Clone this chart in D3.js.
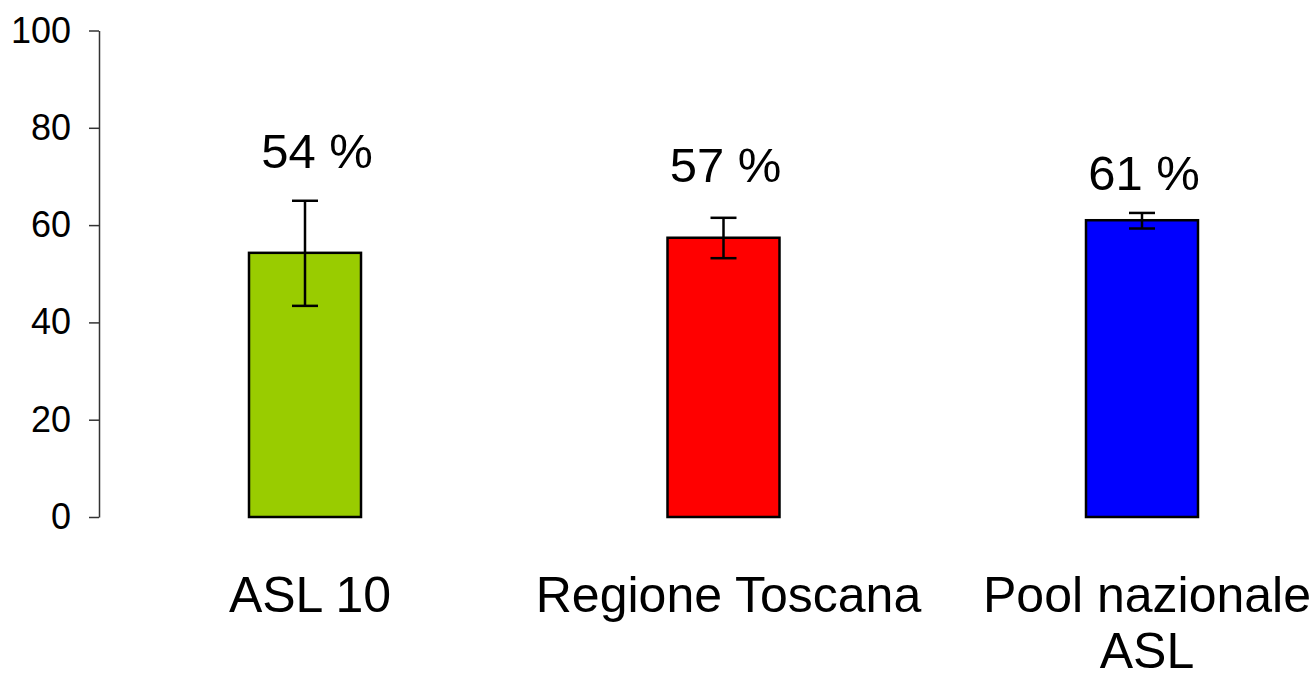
<!DOCTYPE html>
<html><head><meta charset="utf-8">
<script src="https://cdn.jsdelivr.net/npm/d3@7"></script>
<style>body{margin:0;background:#fff}svg{display:block}text{font-family:"Liberation Sans",Arial,sans-serif}</style>
</head><body>
<script>
const categories = [["ASL 10"], ["Regione Toscana"], ["Pool nazionale", "ASL"]];
const values = [54.3, 57.4, 61.0];
const errLow = [43.4, 53.2, 59.3];
const errHigh = [65.0, 61.5, 62.5];
const valueLabels = ["54 %", "57 %", "61 %"];
const labelAt = [71.7, 68.9, 67.2];
const colors = ["#99CC00", "#FF0000", "#0000FF"];
const yTicks = [0, 20, 40, 60, 80, 100];

const W = 1311, H = 678;
const svg = d3.select("body").append("svg").attr("width", W).attr("height", H);
const y = d3.scaleLinear().domain([0, 100]).range([517, 30.5]);
const keys = categories.map((c, i) => i);
const x = d3.scalePoint().domain(keys).range([305, 1142]);
const bw = 112;

const ax = svg.append("g").attr("transform", "translate(99,0)")
  .call(d3.axisLeft(y).tickValues(yTicks).tickSize(10).tickSizeOuter(0).tickPadding(18));
ax.select(".domain").attr("stroke", "#333").attr("stroke-width", 1.5);
ax.selectAll(".tick line").attr("stroke", "#333").attr("stroke-width", 1.5);
ax.selectAll(".tick text").attr("font-size", 36).attr("fill", "#000")
  .attr("font-family", '"Liberation Sans",Arial,sans-serif');

svg.selectAll("rect.bar").data(keys).enter().append("rect")
  .attr("x", i => x(i) - bw / 2).attr("width", bw)
  .attr("y", i => y(values[i])).attr("height", i => y(0) - y(values[i]))
  .attr("fill", i => colors[i]).attr("stroke", "#000").attr("stroke-width", 2.5);

const eb = svg.selectAll("g.err").data(keys).enter().append("g")
  .attr("stroke", "#000").attr("stroke-width", 2.5);
eb.append("line").attr("x1", i => x(i)).attr("x2", i => x(i))
  .attr("y1", i => y(errHigh[i])).attr("y2", i => y(errLow[i]));
eb.append("line").attr("x1", i => x(i) - 13).attr("x2", i => x(i) + 13)
  .attr("y1", i => y(errHigh[i])).attr("y2", i => y(errHigh[i]));
eb.append("line").attr("x1", i => x(i) - 13).attr("x2", i => x(i) + 13)
  .attr("y1", i => y(errLow[i])).attr("y2", i => y(errLow[i]));

svg.selectAll("text.vl").data(keys).enter().append("text")
  .attr("x", i => x(i) + (i === 0 ? 12 : 2)).attr("y", i => y(labelAt[i]))
  .attr("text-anchor", "middle").attr("font-size", 49).attr("fill", "#000")
  .text(i => valueLabels[i]);

const cl = svg.selectAll("text.cl").data(keys).enter().append("text")
  .attr("text-anchor", "middle").attr("font-size", 50).attr("fill", "#000")
  .attr("transform", i => `translate(${x(i) + 5},612)`);
cl.selectAll("tspan").data(i => categories[i]).enter().append("tspan")
  .attr("x", 0).attr("dy", (d, j) => j === 0 ? 0 : 56).text(d => d);
</script>
</body></html>
